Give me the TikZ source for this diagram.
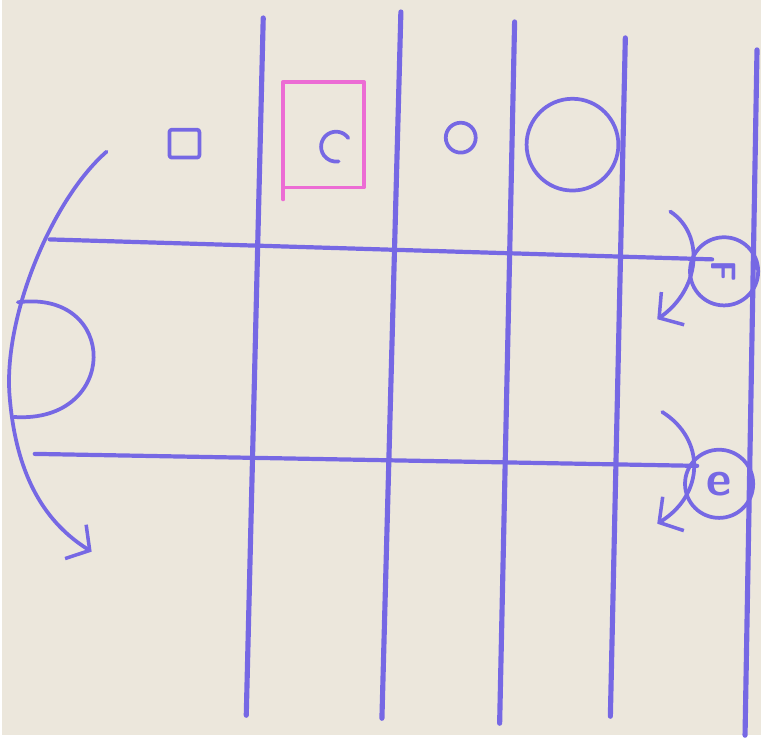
\documentclass[tikz,border=0pt]{standalone}
\usepackage{tikz}
\usetikzlibrary{arrows.meta}
\definecolor{paper}{HTML}{ECE7DC}
\definecolor{pen}{HTML}{7668E4}
\definecolor{pinkpen}{HTML}{EC6CD4}

\begin{document}
\begin{tikzpicture}[
  x=0.03cm, y=-0.03cm, line cap=round, line join=round,
  >={Straight Barb[length=5mm,width=12mm,line width=3pt]},
  rule/.style={pen, line width=4.4pt},
  hrule/.style={pen, line width=3.6pt},
  stroke/.style={pen, line width=3.2pt},
  ringmark/.style={circle, draw=pen, line width=3.2pt, minimum size=2.05cm, inner sep=0pt,
    text=pen, font=\sffamily\bfseries}]

\fill[paper] (0,0) rectangle (761,737);

% ================================================================ grid
\foreach \i/\xt/\yt/\xb/\yb in {1/262/18/245/717, 2/400/12/381/720,
    3/514/22/499/725, 4/625/38/610/718, 5/757/50/745/737}{
  \coordinate (v\i t) at (\xt,\yt);
  \coordinate (v\i b) at (\xb,\yb);
  \draw[rule] (v\i t) -- (v\i b);}

\node[ringmark] (F) at (724,272) {\rotatebox{-90}{\fontsize{30}{30}\selectfont F}};
\node[ringmark] (e) at (719,485) {\fontsize{42}{42}\selectfont e};

\coordinate (hA) at (48,240);  \coordinate (hAend) at (712,260);
\coordinate (hB) at (33,455);  \coordinate (hBend) at (697,467);
\draw[hrule] (hA) -- (hAend);
\draw[hrule] (hB) -- (hBend);

% ================================================================ top row
\draw[stroke, rounded corners=2pt] (168,130) rectangle (198,158);
\draw[pinkpen, line width=3pt] (282,200) -- (282,82) -- (363,82) -- (363,188) -- (282,188);
\draw[stroke] (347.3,138.4) arc[start angle=-35, end angle=-280, radius=15];
\draw[stroke] (460,138) circle[radius=15];
\draw[stroke] (572,145) circle[radius=46];

% ================================================================ left turn
\coordinate (lt) at (105,152);
\coordinate (lb) at (90,553);
\draw[stroke, ->] (lt) .. controls (50,200) and (0,320) .. (8,400)
  .. controls (15,480) and (45,525) .. (lb);
\draw[stroke] (16,303) .. controls (118,290) and (118,425) .. (12,418);

% ================================================================ right turns
\coordinate (Ft) at (670,212);  \coordinate (Fb) at (657,320);
\coordinate (et) at (662,413);  \coordinate (eb) at (657,525);
\draw[stroke, ->] (Ft) .. controls (705,235) and (700,290) .. (Fb);
\draw[stroke, ->] (et) .. controls (705,440) and (705,495) .. (eb);

\end{tikzpicture}
\end{document}
